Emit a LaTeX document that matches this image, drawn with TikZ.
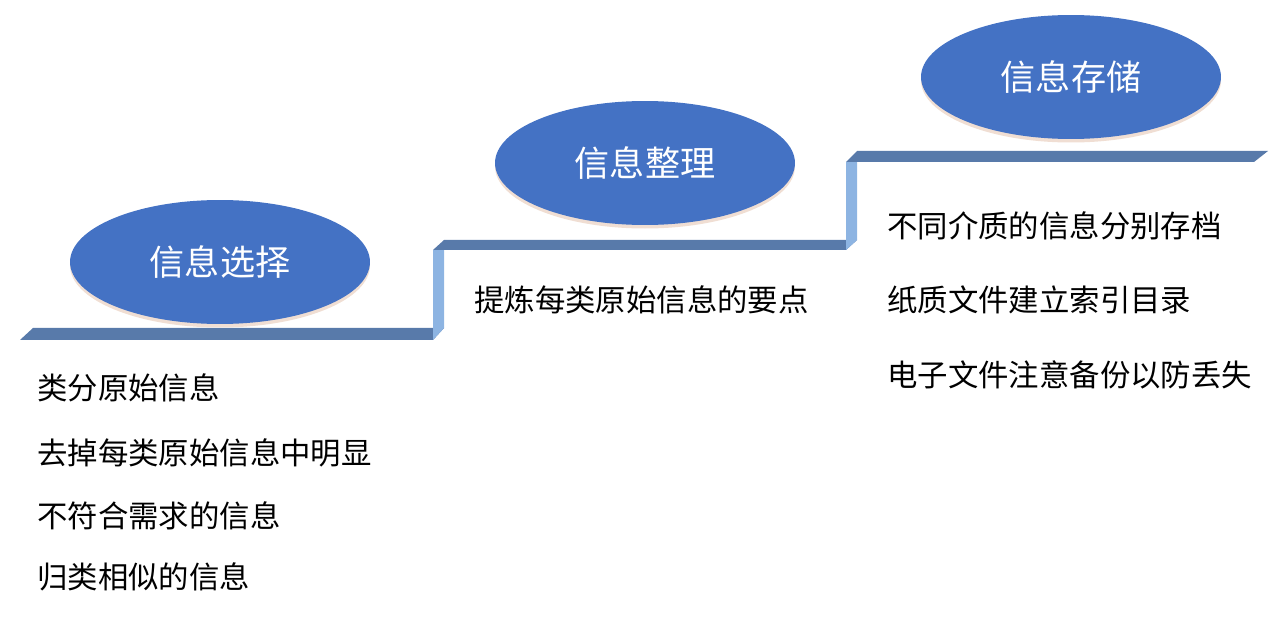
\documentclass[tikz,border=0pt]{standalone}
\usepackage{fontspec}
\usepackage{xcolor}
\usetikzlibrary{shapes.geometric,positioning,shadows}
\setmainfont{Noto Sans CJK SC}
\definecolor{stageblue}{RGB}{68, 114, 196}
\definecolor{treadblue}{RGB}{88, 122, 170}
\definecolor{riserblue}{RGB}{141, 180, 226}
\definecolor{shadowtan}{RGB}{236, 214, 200}

\begin{document}
\begin{tikzpicture}[
    x=0.02cm, y=-0.02cm,
    stage/.style={ellipse, fill=stageblue, minimum width=6cm, minimum height=2.48cm, text=white, font=\fontsize{20}{24}\selectfont,
        drop shadow={shadow xshift=0pt, shadow yshift=-2pt, fill=shadowtan, opacity=0.8}},
    item/.style={anchor=west, inner sep=0pt, font=\fontsize{17.3}{20}\selectfont, text=black},
    tread/.style={fill=treadblue},
    riser/.style={fill=riserblue}
]
\useasboundingbox (0,0) rectangle (1282,618);

% Steps
\fill[tread] (20,340) -- (33,328) -- (444,328) -- (433,340) -- cycle;
\fill[riser] (433,250) -- (444,250) -- (444,328) -- (433,340) -- cycle;
\fill[tread] (433,250) -- (444,240) -- (857,240) -- (846,250) -- cycle;
\fill[riser] (846,162) -- (857,162) -- (857,240) -- (846,250) -- cycle;
\fill[tread] (846,162) -- (857,151) -- (1268,151) -- (1254,162) -- cycle;

% Stage titles
\node[stage] (select) at (220,262) {信息选择};
\node[stage] (sort) at (645,163) {信息整理};
\node[stage] (store) at (1071,77) {信息存储};

% Step texts
\node[item] (sel1) at (37,388) {类分原始信息};
\node[item] (sel2) at (37,453) {去掉每类原始信息中明显};
\node[item] (sel3) at (37,516) {不符合需求的信息};
\node[item] (sel4) at (37,577) {归类相似的信息};

\node[item] (sort1) at (474,300) {提炼每类原始信息的要点};

\node[item] (store1) at (887,226) {不同介质的信息分别存档};
\node[item] (store2) at (887,300) {纸质文件建立索引目录};
\node[item] (store3) at (887,375) {电子文件注意备份以防丢失};

\end{tikzpicture}
\end{document}
